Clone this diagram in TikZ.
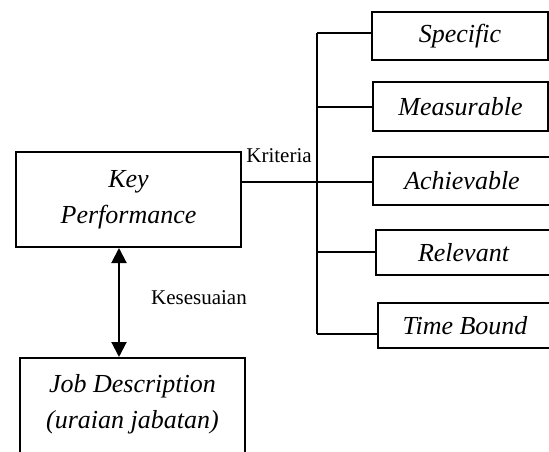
\documentclass[tikz,border=0pt]{standalone}
\usepackage{fontspec}
\setmainfont{Liberation Serif}
\usetikzlibrary{arrows.meta}
\begin{document}
\begin{tikzpicture}[x=1pt,y=-1pt,
  box/.style={draw,line width=2pt,inner sep=0pt,align=center,
    font=\fontsize{26}{36}\selectfont\itshape},
  link/.style={line width=1.7pt},
  lbl/.style={inner sep=0pt,font=\fontsize{21}{24}\selectfont}]
\useasboundingbox (0,0) rectangle (549,452);
% main boxes
\node[box,minimum width=225pt,minimum height=95pt] (kp) at (128.5,199.5) {Key\\Performance};
\node[box,minimum width=225pt,minimum height=120pt] (jd) at (132.5,418) {};
\node[font=\fontsize{26}{36}\selectfont\itshape,align=center] (jdt) at (132.5,404) {Job Description\\(uraian jabatan)};
% criteria boxes
\node[box,minimum width=176pt,minimum height=48pt] (spec) at (460,36) {Specific};
\node[box,minimum width=175pt,minimum height=49pt] (meas) at (460.5,106.5) {Measurable};
\node[box,minimum width=178pt,minimum height=48pt] (ach) at (462,181) {Achievable};
\node[box,minimum width=175pt,minimum height=45pt] (rel) at (463.5,252.5) {Relevant};
\node[box,minimum width=174pt,minimum height=45pt] (tb) at (465,325.5) {Time Bound};
% spine points
\coordinate (s1) at (317,33);
\coordinate (s2) at (317,107);
\coordinate (hub) at (317,182);
\coordinate (s4) at (317,252);
\coordinate (s5) at (317,334);
\draw[link] (s1) -- (s5);
\draw[link] (s1) -- (s1 -| spec.west);
\draw[link] (s2) -- (s2 -| meas.west);
\draw[link] (hub -| kp.east) -- (hub) -- (hub -| ach.west);
\draw[link] (s4) -- (s4 -| rel.west);
\draw[link] (s5) -- (s5 -| tb.west);
% labels
\node[lbl] (krit) at (279,156) {Kriteria};
\draw[line width=2pt,{Triangle[width=15pt,length=15pt]}-{Triangle[width=15pt,length=15pt]}] (kp.south -| 119,0) -- (jd.north -| 119,0);
\node[lbl] (kes) at (199,298) {Kesesuaian};
\end{tikzpicture}
\end{document}
